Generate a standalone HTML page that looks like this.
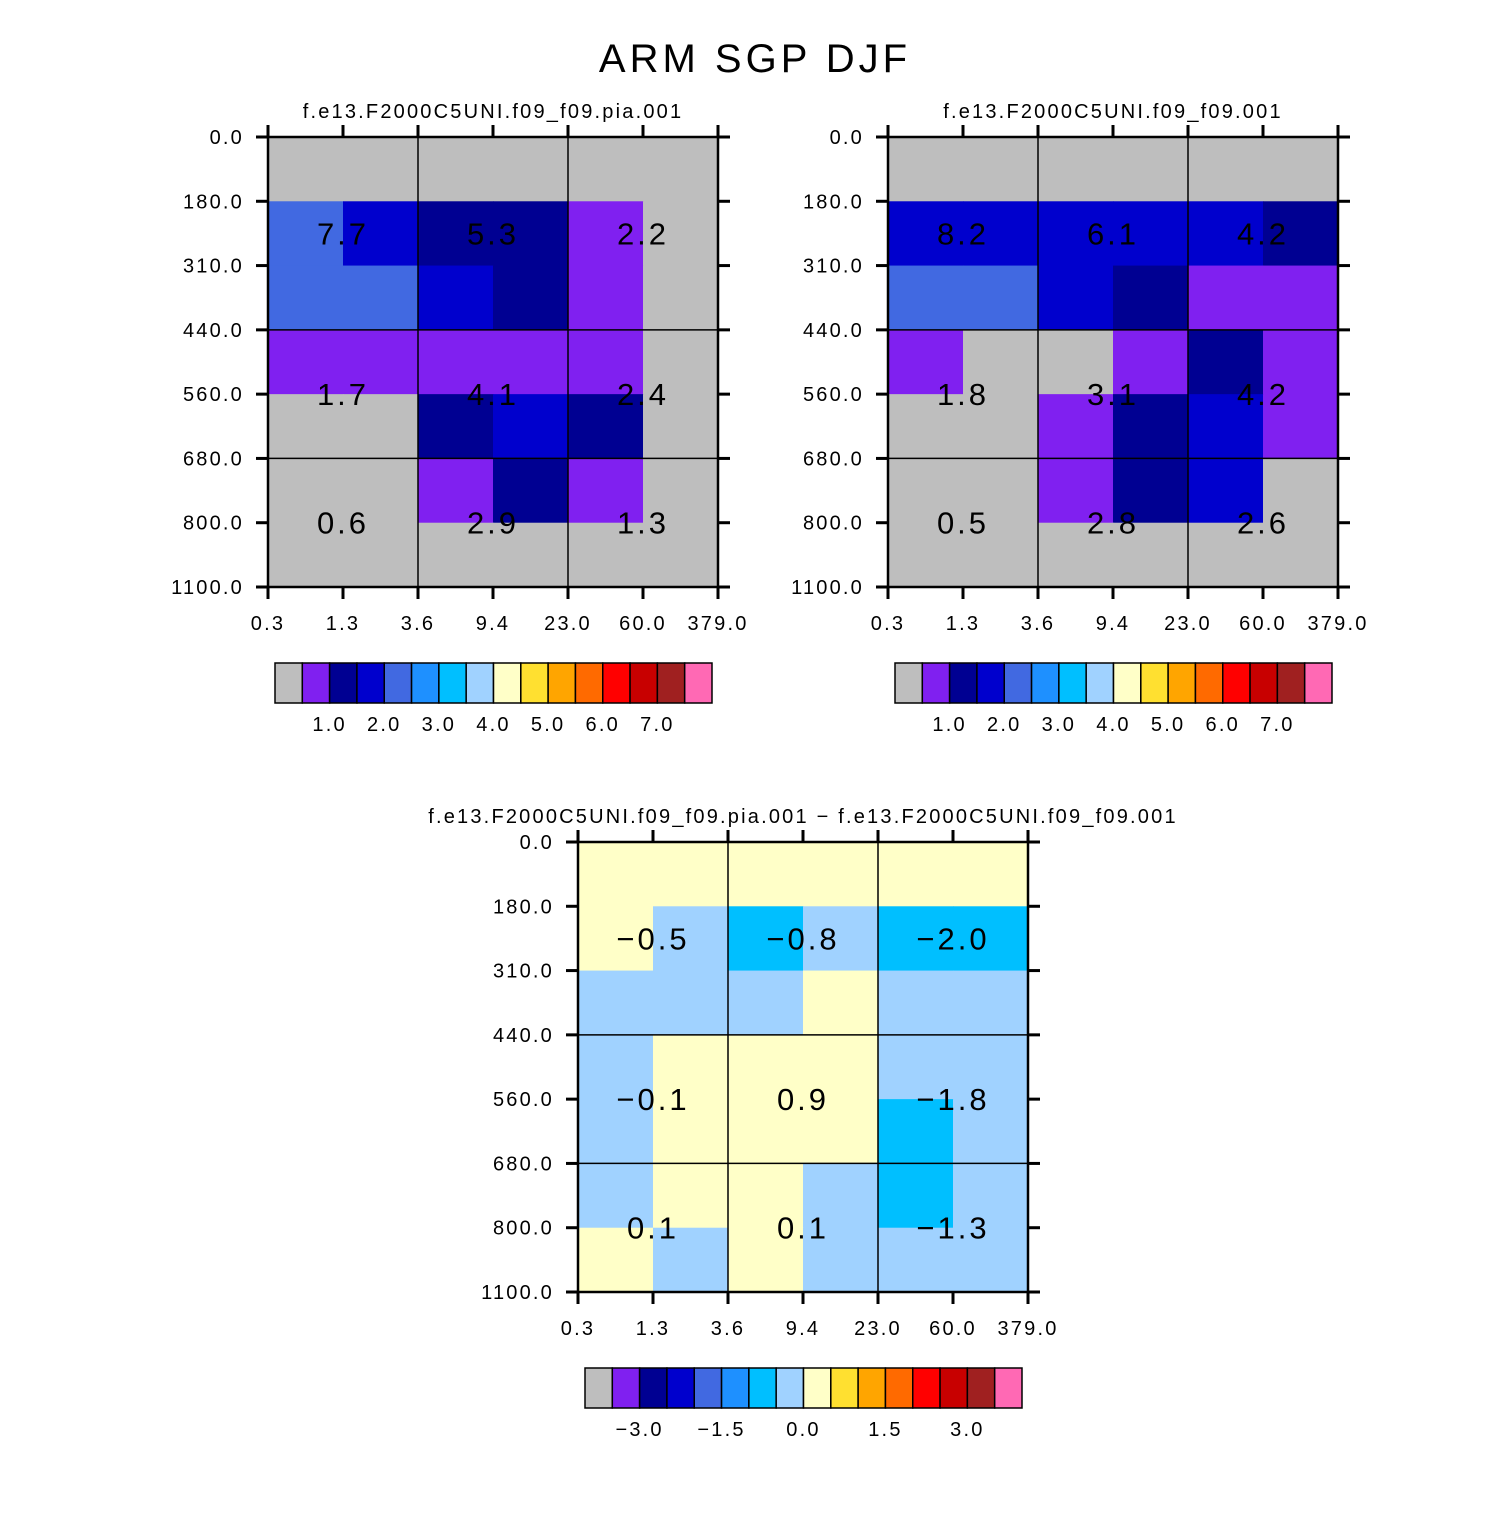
<!DOCTYPE html>
<html><head><meta charset="utf-8"><style>
html,body{margin:0;padding:0;background:#fff;}
svg text{font-family:"Liberation Sans",sans-serif;fill:#000;}
.sm{letter-spacing:2.2px;}
.val{letter-spacing:3px;}
</style></head><body>
<svg id="s" width="1510" height="1510" viewBox="0 0 1510 1510" xmlns="http://www.w3.org/2000/svg">
<text x="755" y="72" font-size="40" text-anchor="middle" style="letter-spacing:4px">ARM SGP DJF</text>
</svg>
<script>
const palette=["#BEBEBE","#8020F0","#000092","#0000CD","#4169E1","#1E90FF","#00BFFF","#A0D2FF","#FFFFC8","#FFE030","#FFA500","#FF6A00","#FF0000","#C80000","#A02020","#FF69B4"];
const tauLabels=["0.3","1.3","3.6","9.4","23.0","60.0","379.0"];
const presLabels=["0.0","180.0","310.0","440.0","560.0","680.0","800.0","1100.0"];
const cellsA=[[0,0,0,0,0,0],[4,3,2,2,1,0],[4,4,3,2,1,0],[1,1,1,1,1,0],[0,0,2,3,2,0],[0,0,1,2,1,0],[0,0,0,0,0,0]];
const cellsB=[[0,0,0,0,0,0],[3,3,3,3,3,2],[4,4,3,2,1,1],[1,0,0,1,2,1],[0,0,1,2,3,1],[0,0,1,2,3,0],[0,0,0,0,0,0]];
const cellsD=[[8,8,8,8,8,8],[8,7,6,7,6,6],[7,7,7,8,7,7],[7,8,8,8,7,7],[7,8,8,8,6,7],[7,8,8,7,6,7],[8,7,8,7,7,7]];
const valsA=["7.7","5.3","2.2","1.7","4.1","2.4","0.6","2.9","1.3"];
const valsB=["8.2","6.1","4.2","1.8","3.1","4.2","0.5","2.8","2.6"];
const valsD=["−0.5","−0.8","−2.0","−0.1","0.9","−1.8","0.1","0.1","−1.3"];
const cbLabelsTop=["1.0","2.0","3.0","4.0","5.0","6.0","7.0"];
const cbLabelsTopPos=[2,4,6,8,10,12,14];
const cbLabelsDiff=["−3.0","−1.5","0.0","1.5","3.0"];
const cbLabelsDiffPos=[2,5,8,11,14];

const svg=document.getElementById('s');
const NS="http://www.w3.org/2000/svg";
function mk(tag,attrs,parent){const e=document.createElementNS(NS,tag);for(const k in attrs)e.setAttribute(k,attrs[k]);(parent||svg).appendChild(e);return e;}

function panel(x0,y0,title,cells,vals,name){
  const W=450,H=450,cw=W/6,rh=H/7;
  const g=mk('g',{});
  
  
  const t=mk('text',{x:x0+W/2,y:y0-19,'font-size':20,'text-anchor':'middle','class':'sm'},g);t.textContent=title;
  
  
  cells.forEach((row,r)=>row.forEach((c,k)=>{
    const rc=mk('rect',{x:x0+k*cw,y:y0+r*rh,width:cw+0.5,height:rh+0.5,fill:palette[c]},g);
    
    
  }));
  [2,4].forEach(k=>mk('line',{x1:x0+k*cw,x2:x0+k*cw,y1:y0,y2:y0+H,stroke:'#000','stroke-width':1.5},g));
  [3,5].forEach(r=>mk('line',{x1:x0,x2:x0+W,y1:y0+r*rh,y2:y0+r*rh,stroke:'#000','stroke-width':1.5},g));
  mk('rect',{x:x0,y:y0,width:W,height:H,fill:'none',stroke:'#000','stroke-width':2.5},g);
  presLabels.forEach((l,i)=>{
    const y=y0+i*rh;
    mk('line',{x1:x0-12,x2:x0,y1:y,y2:y,stroke:'#000','stroke-width':3},g);
    mk('line',{x1:x0+W,x2:x0+W+12,y1:y,y2:y,stroke:'#000','stroke-width':3},g);
    const tt=mk('text',{x:x0-24,y:y+7,'font-size':20,'text-anchor':'end','class':'sm'},g);tt.textContent=l;
    
    
  });
  tauLabels.forEach((l,i)=>{
    const x=x0+i*cw;
    mk('line',{x1:x,x2:x,y1:y0-12,y2:y0,stroke:'#000','stroke-width':3},g);
    mk('line',{x1:x,x2:x,y1:y0+H,y2:y0+H+12,stroke:'#000','stroke-width':3},g);
    const tt=mk('text',{x:x,y:y0+H+43,'font-size':20,'text-anchor':'middle','class':'sm'},g);tt.textContent=l;
    
    
  });
  const ly=[y0+rh*1.5,y0+rh*4,y0+rh*6];
  vals.forEach((v,i)=>{
    const tt=mk('text',{x:x0+cw*(1+2*(i%3)),y:ly[Math.floor(i/3)]+11,'font-size':31,'text-anchor':'middle','class':'val'},g);tt.textContent=v;
    
    
  });
}
function colorbar(x0,y0,labels,pos,name){
  const bw=437/16;
  const g=mk('g',{});
  
  
  palette.forEach((c,i)=>mk('rect',{x:x0+i*bw,y:y0,width:bw,height:40,fill:c,stroke:'#000','stroke-width':1.5},g));
  labels.forEach((l,i)=>{
    const tt=mk('text',{x:x0+pos[i]*bw,y:y0+68,'font-size':20,'text-anchor':'middle','class':'sm'},g);tt.textContent=l;
    
    
  });
}
panel(268,137,"f.e13.F2000C5UNI.f09_f09.pia.001",cellsA,valsA,'panel-pia');
panel(888,137,"f.e13.F2000C5UNI.f09_f09.001",cellsB,valsB,'panel-control');
panel(578,842,"f.e13.F2000C5UNI.f09_f09.pia.001 − f.e13.F2000C5UNI.f09_f09.001",cellsD,valsD,'panel-difference');
colorbar(275,663,cbLabelsTop,cbLabelsTopPos,'colorbar-pia');
colorbar(895,663,cbLabelsTop,cbLabelsTopPos,'colorbar-control');
colorbar(585,1368,cbLabelsDiff,cbLabelsDiffPos,'colorbar-difference');
</script>
</body></html>
